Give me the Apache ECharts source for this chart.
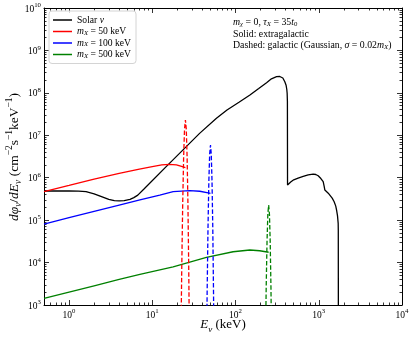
<!DOCTYPE html>
<html>
<head>
<meta charset="utf-8">
<title>solar nu vs X decay flux</title>
<script src="https://cdn.jsdelivr.net/npm/echarts@6/dist/echarts.min.js"></script>
<style>
  html, body { margin: 0; padding: 0; background: #fff; }
  #main { width: 415px; height: 340px; }
</style>
</head>
<body>
<div id="main"></div>
<script>
// energies in keV, fluxes in cm^-2 s^-1 keV^-1
var solarE    = [0.5, 1.0, 1.3, 1.6, 2.0, 2.5, 3.0, 3.5, 4.0, 4.6, 5.4, 6.0, 6.7, 8, 15, 37, 59, 79, 110, 149, 190, 236, 270, 311, 340, 370, 391, 405, 413, 417, 420, 421.5,
                 460, 500, 565, 650, 746, 857, 920, 984, 1060, 1130, 1160, 1184, 1241, 1300, 1360, 1450, 1531, 1600, 1637, 1680, 1711, 1716, 1720];
var solarFlux = [4.86e5, 4.86e5, 4.84e5, 4.68e5, 4.17e5, 3.55e5, 3.09e5, 2.88e5, 2.85e5, 2.88e5, 3.09e5, 3.39e5, 3.89e5, 5.5e5, 1.9e6, 1.11e7, 2.51e7, 3.94e7, 6.03e7, 8.91e7, 1.26e8, 1.74e8, 2.14e8, 2.4e8, 2.43e8, 2.24e8, 1.82e8, 1.51e8, 1.2e8, 9.8e7, 6.3e7, 6.76e5,
                 7.94e5, 8.91e5, 9.77e5, 1.07e6, 1.16e6, 1.22e6, 1.19e6, 1.11e6, 9.55e5, 8.05e5, 6.31e5, 5.13e5, 4.68e5, 4.32e5, 3.92e5, 3.31e5, 2.72e5, 2.14e5, 1.73e5, 1.26e5, 8.4e4, 5.9e4, 500];

var m50E    = [0.5, 1, 2, 4, 7, 10, 13, 16, 19.5, 23, 25];
var m50Flux = [4.7e5, 6.6e5, 9.3e5, 1.26e6, 1.6e6, 1.82e6, 2.0e6, 2.07e6, 2.0e6, 1.82e6, 1.72e6];
var m50GalE    = [22.0, 22.6, 23.2, 23.8, 24.4, 25, 25.6, 26.2, 26.8, 27.4, 28.0];
var m50GalFlux = [90, 7.7e3, 2.5e5, 3.1e6, 1.4e7, 2.3e7, 1.4e7, 3.1e6, 2.5e5, 7.7e3, 90];

var m100E    = [0.5, 1, 2, 4, 7.1, 12.3, 17.8, 28.2, 37.2, 46.9, 50];
var m100Flux = [8.1e4, 1.14e5, 1.6e5, 2.25e5, 3.0e5, 3.9e5, 4.7e5, 4.94e5, 4.8e5, 4.4e5, 4.27e5];
var m100GalE    = [44.5, 45.6, 46.7, 47.8, 48.9, 50, 51.1, 52.2, 53.3, 54.4, 55.5];
var m100GalFlux = [22, 2e3, 6.6e4, 8e5, 3.6e6, 5.9e6, 3.6e6, 8e5, 6.6e4, 2e3, 22];

var m500E    = [0.5, 1, 2, 4, 7.1, 17.8, 44.7, 93.5, 148.6, 195, 250];
var m500Flux = [1.44e3, 2.02e3, 2.84e3, 4.0e3, 5.3e3, 7.9e3, 1.33e4, 1.8e4, 1.98e4, 1.9e4, 1.75e4];
var m500GalE    = [228, 233.5, 239, 244.5, 250, 255.5, 261, 266.5, 272];
var m500GalFlux = [76, 2.5e3, 3.1e4, 1.4e5, 2.27e5, 1.4e5, 3.1e4, 2.5e3, 76];

// tick labels (powers of ten)
var xTickExp = [0, 1, 2, 3, 4];
var yTickExp = [3, 4, 5, 6, 7, 8, 9, 10];

var serif = "'Liberation Serif', 'DejaVu Serif', serif";
var xMin = Math.log10(0.5), xMax = 4, yMin = 3, yMax = 10;

function toLog(es, fs) {
    var out = [];
    for (var i = 0; i < es.length; i++) out.push([Math.log10(es[i]), Math.log10(fs[i])]);
    return out;
}
function minorTicks(from, to, lo, hi) {
    var t = [];
    for (var n = from; n <= to; n++) {
        for (var k = 2; k <= 9; k++) {
            var v = Math.log10(k) + n;
            if (v > lo && v < hi) t.push(v);
        }
    }
    return t;
}
var xMinor = minorTicks(-1, 3, xMin, xMax);
var yMinor = minorTicks(3, 9, yMin, yMax);

// rich text styles for math-ish labels
function mathRich(size, L) {
    return {
        t:   { fontFamily: serif, fontSize: size, lineHeight: L, verticalAlign: 'middle', color: '#000' },
        i:   { fontFamily: serif, fontSize: size, fontStyle: 'italic', lineHeight: L, verticalAlign: 'middle', color: '#000' },
        sub: { fontFamily: serif, fontSize: size * 0.7, fontStyle: 'italic', lineHeight: L - 4, verticalAlign: 'bottom', color: '#000' },
        subr:{ fontFamily: serif, fontSize: size * 0.7, lineHeight: L - 4, verticalAlign: 'bottom', color: '#000' },
        sup: { fontFamily: serif, fontSize: size * 0.7, lineHeight: L - 9, verticalAlign: 'top', color: '#000' }
    };
}
var tickRich = {
    b: { fontFamily: serif, fontSize: 9.5, lineHeight: 12, verticalAlign: 'bottom', color: '#000' },
    s: { fontFamily: serif, fontSize: 6.8, lineHeight: 6, verticalAlign: 'top', color: '#000' }
};
function pow10(v) { return '{b|10}{s|' + Math.round(v) + '}'; }

function axis(dim, pos, major, showLine, showLabel) {
    var isX = dim === 'x';
    return {
        type: 'value',
        position: pos,
        min: isX ? xMin : yMin,
        max: isX ? xMax : yMax,
        axisLine: { show: showLine, onZero: false, lineStyle: { color: '#000', width: 1 } },
        axisTick: {
            show: true, inside: true, length: major ? 5 : 2.5,
            customValues: major ? (isX ? xTickExp : yTickExp) : (isX ? xMinor : yMinor),
            lineStyle: { color: '#000', width: 0.8 }
        },
        axisLabel: {
            show: showLabel, customValues: isX ? xTickExp : yTickExp,
            formatter: pow10, rich: tickRich, margin: 3
        },
        splitLine: { show: false }
    };
}

var legendText = {
    'sun':  '{t|Solar }{i|ν}',
    'm50':  '{i|m}{sub|X}{t| = 50 keV}',
    'm100': '{i|m}{sub|X}{t| = 100 keV}',
    'm500': '{i|m}{sub|X}{t| = 500 keV}'
};

function lineSeries(name, data, color, dashed) {
    return {
        name: name, type: 'line', data: data, symbol: 'none', smooth: false,
        itemStyle: { color: color },
        lineStyle: { color: color, width: 1.3, type: dashed ? [4.5, 2.2] : 'solid' },
        emphasis: { disabled: true }
    };
}

var noteRich = mathRich(9.8, 12);

var chart = echarts.init(document.getElementById('main'));
var option = {
    animation: false,
    backgroundColor: '#fff',
    grid: { left: 44, right: 13, top: 8, bottom: 35 },
    xAxis: [
        axis('x', 'bottom', true, true, true),
        axis('x', 'bottom', false, false, false),
        axis('x', 'top', true, true, false),
        axis('x', 'top', false, false, false)
    ],
    yAxis: [
        axis('y', 'left', true, true, true),
        axis('y', 'left', false, false, false),
        axis('y', 'right', true, true, false),
        axis('y', 'right', false, false, false)
    ],
    legend: {
        data: ['sun', 'm50', 'm100', 'm500'],
        orient: 'vertical', left: 49, top: 11,
        icon: 'rect', itemWidth: 19, itemHeight: 1.5, itemGap: 1.5,
        padding: [4, 5, 4, 4],
        borderColor: '#d4d4d4', borderWidth: 1, borderRadius: 3,
        backgroundColor: 'rgba(255,255,255,0.8)',
        formatter: function (n) { return legendText[n]; },
        textStyle: { fontFamily: serif, fontSize: 9.6, color: '#000', rich: mathRich(9.6, 10) }
    },
    graphic: [
        {
            type: 'text', left: 233, top: 17, silent: true,
            style: { text: '{i|m}{sub|χ}{t| = 0, }{i|τ}{sub|X}{t| = 35}{i|t}{subr|0}', rich: noteRich, fontFamily: serif, fontSize: 9.8, fill: '#000' }
        },
        {
            type: 'text', left: 233, top: 29, silent: true,
            style: { text: '{t|Solid: extragalactic}', rich: noteRich, fontFamily: serif, fontSize: 9.8, fill: '#000' }
        },
        {
            type: 'text', left: 233, top: 40, silent: true,
            style: { text: '{t|Dashed: galactic (Gaussian, }{i|σ}{t| = 0.02}{i|m}{sub|X}{t|)}', rich: noteRich, fontFamily: serif, fontSize: 9.8, fill: '#000' }
        },
        {
            type: 'text', x: 223, y: 325, silent: true,
            style: { text: '{i|E}{sub|ν}{t| (keV)}', rich: mathRich(13, 18), fontFamily: serif, fontSize: 13, fill: '#000', align: 'center', verticalAlign: 'middle' }
        },
        {
            type: 'text', x: 14, y: 157, rotation: Math.PI / 2, silent: true,
            style: { text: '{i|dφ}{sub|ν}{t|/}{i|dE}{sub|ν}{t| (cm}{sup|−2}{t|s}{sup|−1}{t|keV}{sup|−1}{t|)}', rich: mathRich(13.5, 18), fontFamily: serif, fontSize: 13.5, fill: '#000', align: 'center', verticalAlign: 'middle' }
        }
    ],
    series: [
        lineSeries('sun', toLog(solarE, solarFlux), '#000000', false),
        lineSeries('m50', toLog(m50E, m50Flux), '#ff0000', false),
        lineSeries('m100', toLog(m100E, m100Flux), '#0000ff', false),
        lineSeries('m500', toLog(m500E, m500Flux), '#008000', false),
        lineSeries('m50 gal', toLog(m50GalE, m50GalFlux), '#ff0000', true),
        lineSeries('m100 gal', toLog(m100GalE, m100GalFlux), '#0000ff', true),
        lineSeries('m500 gal', toLog(m500GalE, m500GalFlux), '#008000', true)
    ]
};
chart.setOption(option);
</script>
</body>
</html>
